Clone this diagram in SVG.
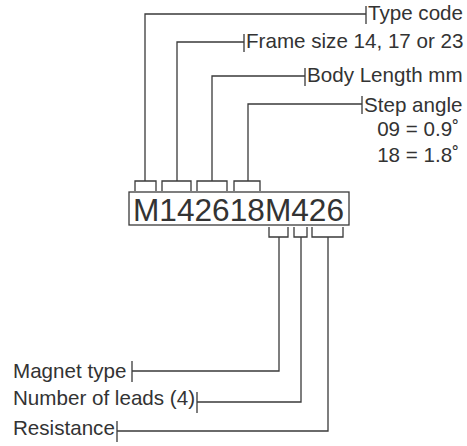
<svg xmlns="http://www.w3.org/2000/svg" width="467" height="446" viewBox="0 0 467 446">
<style>
.l{fill:none;stroke:#3a3a3a;stroke-width:1.3}
.t{font-family:"Liberation Sans",Arial,sans-serif;font-size:20.6px;fill:#333}
.code{font-family:"Liberation Sans",Arial,sans-serif;font-size:32px;fill:#333}
</style>
<rect width="467" height="446" fill="#fff"/>
<g id="code">
<rect class="l" x="129" y="192" width="220" height="33"/>
<text class="code" x="133" y="221" textLength="211" lengthAdjust="spacingAndGlyphs">M142618M426</text>
</g>
<g id="type-code"><text class="t" x="368" y="20">Type code</text></g>
<g id="frame-size"><text class="t" x="246" y="48">Frame size 14, 17 or 23</text></g>
<g id="body-length"><text class="t" x="307" y="82">Body Length mm</text></g>
<g id="step-angle">
<text class="t" x="364" y="112">Step angle</text>
<text class="t" x="459" y="136" text-anchor="end">09 = 0.9˚</text>
<text class="t" x="459" y="162" text-anchor="end">18 = 1.8˚</text>
</g>
<g id="magnet-type"><text class="t" x="13" y="378">Magnet type</text></g>
<g id="number-of-leads"><text class="t" x="13" y="405">Number of leads (4)</text></g>
<g id="resistance"><text class="t" x="13" y="435">Resistance</text></g>
<g id="connectors" class="l">
<path d="M135 191V181H156V191M145 181V14H366M366 6V24"/>
<path d="M162 191V181H191V191M177 181V42H244M244 34V52"/>
<path d="M197 191V181H227V191M212 181V76H305M305 68V86"/>
<path d="M234 191V181H260V191M248 181V104H362M362 96V114"/>
<path d="M269 227V237H288V227M279 237V371H132M132 361V382"/>
<path d="M294 227V237H307V227M301 237V402H197M197 392V413"/>
<path d="M312 227V237H343V227M328 237V431H117M117 421V442"/>
</g>
</svg>
